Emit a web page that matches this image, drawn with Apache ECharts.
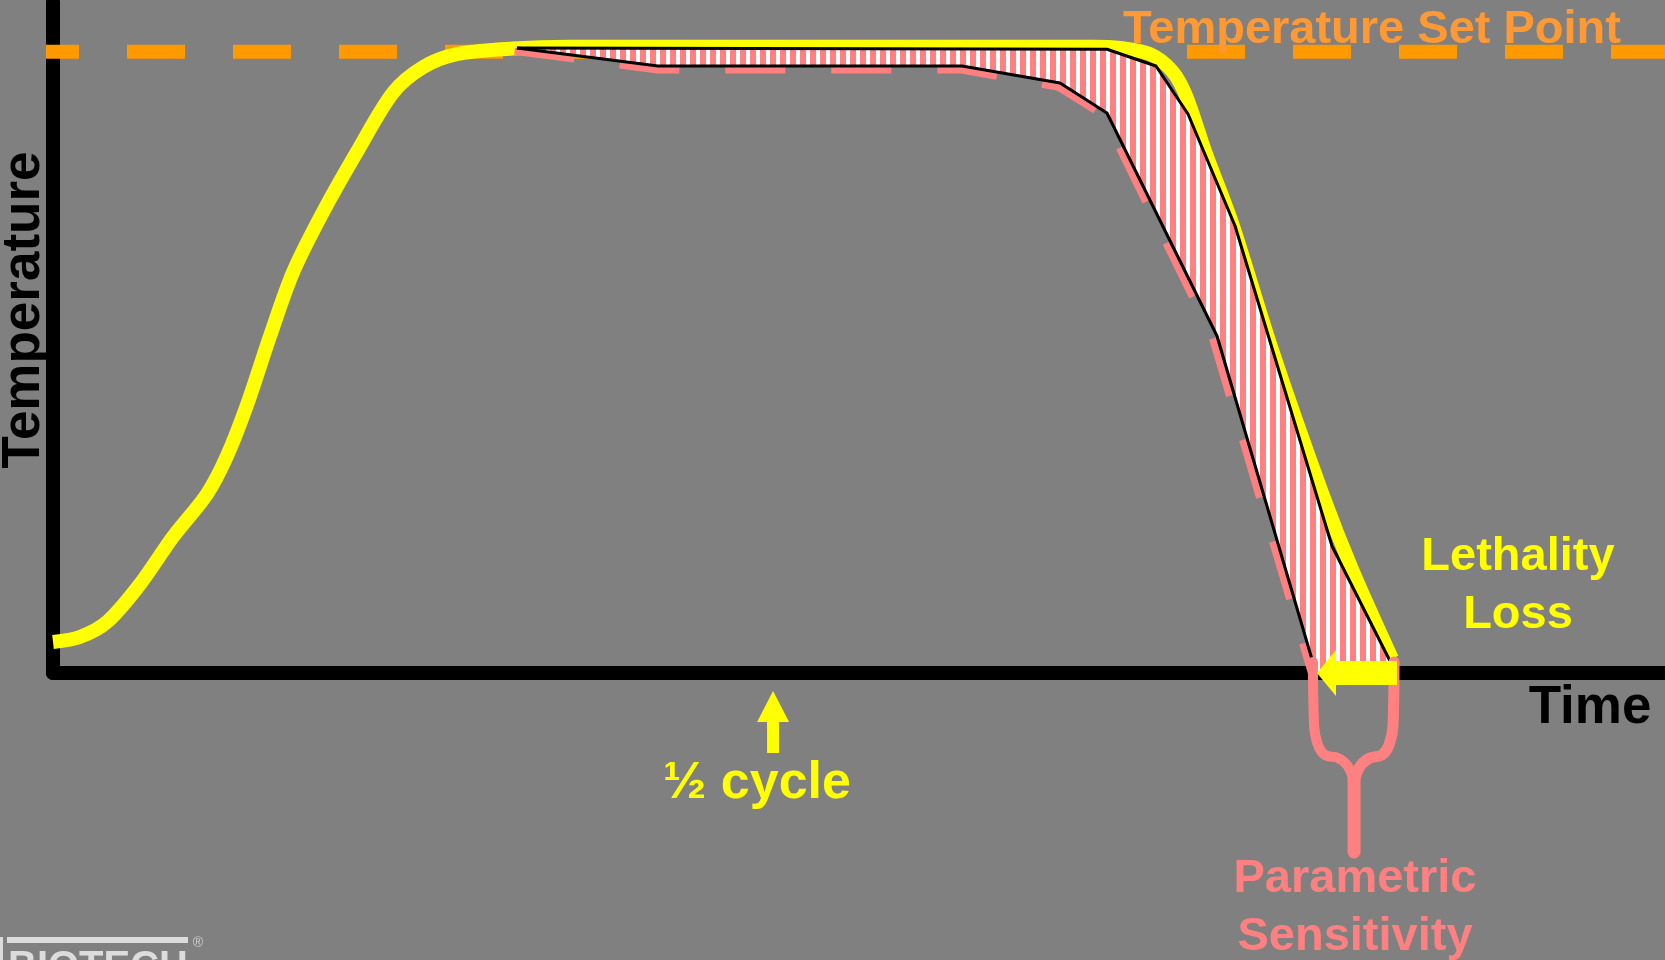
<!DOCTYPE html>
<html><head><meta charset="utf-8">
<script src="https://cdn.jsdelivr.net/npm/echarts@6/dist/echarts.min.js"></script>
<style>html,body{margin:0;padding:0;background:#808080;overflow:hidden;} #c{width:1665px;height:960px;}</style>
</head><body><div id="c"></div>
<script>
// ---- data (time units 0..100, temperature: set point = 100) ----
const setPointTime = [-1.985, 100];
const setPointTemp = [100, 100];

const cycleTime = [0, 1.67, 3.35, 5.40, 7.44, 9.55, 10.79, 12.03, 13.46, 14.89, 16.75, 18.86, 21.09, 22.95, 25.06, 28.54, 32, 40, 50, 60, 64.5, 66.19, 68.05, 69.42, 70.29, 71.46, 73.14, 75.62, 78.72, 80.58, 83.06];
const cycleTemp = [5.0, 5.8, 8.2, 14.3, 21.9, 28.8, 34.9, 43.1, 54.2, 64.5, 74.2, 83.9, 93.4, 97.5, 99.6, 100.5, 100.8, 100.8, 100.8, 100.8, 100.8, 100.6, 99.6, 96.9, 92.9, 84.0, 72.4, 52.0, 29.0, 16.7, 2.3];

const upperTime = [28.78, 65.38, 68.42, 70.41, 73.33, 79.34, 82.94];
const upperTemp = [100.6, 100.4, 97.7, 89.97, 71.95, 20.44, 1.93];

const lowerTime = [28.78, 37.53, 56.39, 62.47, 65.38, 72.21, 78.35];
const lowerTemp = [100.6, 97.7, 97.7, 94.96, 90.13, 54.24, 0];

const pinkTime = [28.04, 37.53, 56.39, 62.34, 65.14, 71.90, 78.10];
const pinkTemp = [100.27, 97.05, 97.05, 94.3, 89.81, 54.08, -0.32];

const braceLeftTime = [78.16, 78.23, 78.47, 78.91, 79.71, 80.27, 80.65];
const braceLeftTemp = [1.77, -8.37, -11.59, -13.20, -13.68, -14.81, -16.90];
const braceRightTime = [83.19, 83.13, 82.88, 82.44, 81.70, 81.14, 80.77];
const braceRightTemp = [1.77, -8.37, -11.59, -13.20, -13.68, -14.81, -16.90];
const braceStemTime = [80.71, 80.71];
const braceStemTemp = [-16.42, -28.81];

const lethalityArrow = [83.37, 0, 78.41, 0];       // tail time, tail temp, tip time, tip temp
const halfCycleArrow = [44.67, -12.88, 44.67, -2.90];

const labels = {
  setPoint: 'Temperature Set Point',
  yName: 'Temperature',
  xName: 'Time',
  lethality: ['Lethality', 'Loss'],
  half: '½ cycle',
  param: ['Parametric', 'Sensitivity'],
  logo: 'BIOTECH'
};

// ---- helpers ----
const zip = (a, b) => a.map((v, i) => [v, b[i]]);
const FONT = "'Liberation Sans', Arial, sans-serif";

const pat = document.createElement('canvas');
pat.width = 10; pat.height = 10;
const pctx = pat.getContext('2d');
pctx.fillStyle = '#ffffff'; pctx.fillRect(0, 0, 10, 10);
pctx.fillStyle = '#ff8080'; pctx.fillRect(0, 0, 6, 10);

function arrowRender(shaftHalf, headLen, headHalf) {
  return function (params, api) {
    const a = api.coord([api.value(0), api.value(1)]);
    const b = api.coord([api.value(2), api.value(3)]);
    const dx = b[0] - a[0], dy = b[1] - a[1];
    const L = Math.sqrt(dx * dx + dy * dy);
    const ux = dx / L, uy = dy / L, nx = -uy, ny = ux;
    const bx = b[0] - ux * headLen, by = b[1] - uy * headLen;
    const pts = [
      [a[0] + nx * shaftHalf, a[1] + ny * shaftHalf],
      [bx + nx * shaftHalf, by + ny * shaftHalf],
      [bx + nx * headHalf, by + ny * headHalf],
      [b[0], b[1]],
      [bx - nx * headHalf, by - ny * headHalf],
      [bx - nx * shaftHalf, by - ny * shaftHalf],
      [a[0] - nx * shaftHalf, a[1] - ny * shaftHalf]
    ];
    return { type: 'polygon', shape: { points: pts }, style: { fill: '#ffff00' } };
  };
}

function txt(text, x, y, size, color, extra) {
  return Object.assign({
    type: 'text', x: x, y: y, z: 100,
    style: {
      text: text, fill: color, font: 'bold ' + size + 'px ' + FONT,
      textAlign: 'center', textVerticalAlign: 'middle', align: 'center', verticalAlign: 'middle'
    }
  }, extra || {});
}

const chart = echarts.init(document.getElementById('c'), null, { renderer: 'canvas', width: 1665, height: 960 });

const option = {
  backgroundColor: '#808080',
  animation: false,
  grid: { left: 53, right: 0, top: 2, bottom: 287, containLabel: false },
  xAxis: {
    type: 'value', min: 0, max: 100,
    axisLine: { show: true, onZero: false, lineStyle: { color: '#000', width: 14 } },
    axisTick: { show: false }, axisLabel: { show: false }, splitLine: { show: false }
  },
  yAxis: {
    type: 'value', min: 0, max: 108,
    axisLine: { show: true, onZero: false, lineStyle: { color: '#000', width: 14 } },
    axisTick: { show: false }, axisLabel: { show: false }, splitLine: { show: false }
  },
  series: [
    { type: 'line', z: 1, clip: false, symbol: 'none', data: zip(setPointTime, setPointTemp),
      lineStyle: { color: '#ff9900', width: 14, type: [58, 48], cap: 'butt' } },
    { type: 'line', z: 2, clip: false, symbol: 'none', smooth: 0.3,
      data: zip(cycleTime, cycleTemp),
      lineStyle: { color: '#ffff00', width: 14, cap: 'butt', join: 'round' } },
    { type: 'line', z: 3, clip: false, symbol: 'none', data: zip(pinkTime, pinkTemp),
      lineStyle: { color: '#ff8080', width: 7, type: [60, 46], dashOffset: 96.4, cap: 'butt' } },
    { type: 'custom', z: 4, clip: false, coordinateSystem: 'cartesian2d', data: [[0, 0]],
      renderItem: function (params, api) {
        const pts = zip(upperTime, upperTemp).map(p => api.coord(p))
          .concat(zip(lowerTime, lowerTemp).reverse().map(p => api.coord(p)));
        return { type: 'polygon', shape: { points: pts }, style: { fill: { image: pat, repeat: 'repeat' } } };
      } },
    { type: 'line', z: 5, clip: false, symbol: 'none', data: zip(upperTime, upperTemp),
      lineStyle: { color: '#000', width: 3, join: 'round' } },
    { type: 'line', z: 5, clip: false, symbol: 'none', data: zip(lowerTime, lowerTemp),
      lineStyle: { color: '#000', width: 3, join: 'round' } },
    { type: 'line', z: 6, clip: false, symbol: 'none', smooth: 0.4, data: zip(braceLeftTime, braceLeftTemp),
      lineStyle: { color: '#ff8080', width: 10, cap: 'round', join: 'round' } },
    { type: 'line', z: 6, clip: false, symbol: 'none', smooth: 0.4, data: zip(braceRightTime, braceRightTemp),
      lineStyle: { color: '#ff8080', width: 11, cap: 'round', join: 'round' } },
    { type: 'line', z: 6, clip: false, symbol: 'none', data: zip(braceStemTime, braceStemTemp),
      lineStyle: { color: '#ff8080', width: 13, cap: 'round' } },
    { type: 'custom', z: 7, clip: false, coordinateSystem: 'cartesian2d', data: [lethalityArrow],
      renderItem: arrowRender(12, 19, 23) },
    { type: 'custom', z: 7, clip: false, coordinateSystem: 'cartesian2d', data: [halfCycleArrow],
      renderItem: arrowRender(6, 31, 16) }
  ],
  graphic: [
    txt(labels.setPoint, 1372, 30, 47, '#ff9933'),
    txt(labels.yName, 24, 310, 53, '#000000', { rotation: Math.PI / 2 }),
    txt(labels.xName, 1590, 708, 53, '#000000'),
    txt(labels.lethality[0], 1518, 557, 47, '#ffff00'),
    txt(labels.lethality[1], 1518, 615, 47, '#ffff00'),
    txt(labels.half, 757, 784, 52, '#ffff00'),
    txt(labels.param[0], 1355, 879, 47, '#ff8080'),
    txt(labels.param[1], 1355, 937, 47, '#ff8080'),
    { type: 'rect', z: 100, shape: { x: 7, y: 937, width: 181, height: 6 }, style: { fill: '#dcdcdc' } },
    { type: 'rect', z: 100, shape: { x: 0, y: 937, width: 3, height: 23 }, style: { fill: '#dcdcdc' } },
    { type: 'text', z: 100, x: 8, y: 968, style: { text: labels.logo, fill: '#dcdcdc', font: 'bold 40px ' + FONT,
      textAlign: 'left', align: 'left', textVerticalAlign: 'middle', verticalAlign: 'middle' } },
    { type: 'text', z: 100, x: 198, y: 943, style: { text: '®', fill: '#cfcfcf', font: '14px ' + FONT,
      textAlign: 'center', align: 'center', textVerticalAlign: 'middle', verticalAlign: 'middle' } }
  ]
};
chart.setOption(option);
</script>
</body></html>
